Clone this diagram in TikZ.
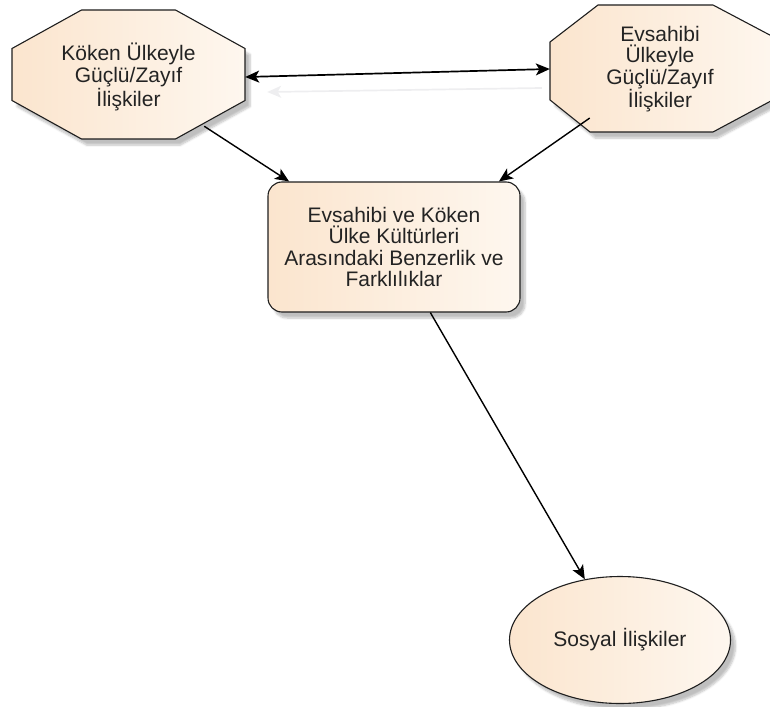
\documentclass[tikz,border=0pt]{standalone}
\usepackage{fontspec}
\setmainfont{Liberation Sans}
\usetikzlibrary{shapes.geometric,arrows.meta,shadows.blur,backgrounds,calc}
\definecolor{peachA}{RGB}{251,229,206}
\definecolor{peachB}{RGB}{254,247,239}
\definecolor{inkline}{RGB}{30,30,30}
\definecolor{inktext}{RGB}{35,35,35}
\definecolor{faint}{RGB}{238,238,240}
\begin{document}
\begin{tikzpicture}[x=1pt,y=-1pt,
  skin/.style={draw=inkline, line width=1.1pt, left color=peachA, right color=peachB,
    blur shadow={shadow xshift=5pt, shadow yshift=-6pt, shadow blur steps=6, shadow opacity=25}},
  label/.style={text=inktext, align=center, inner sep=0pt,
    font=\fontsize{21}{21.5}\selectfont},
  octolabel/.style={label, ellipse, draw=none, fill=none},
  roundbox/.style={label, skin, rectangle, rounded corners=14pt},
  oval/.style={label, skin, ellipse},
  link/.style={draw=black, line width=1.4pt, -{Stealth[length=14pt,width=12pt,inset=3.5pt]}},
  both/.style={draw=black, line width=1.7pt,
    {Stealth[length=14pt,width=12pt,inset=3.5pt]}-{Stealth[length=14pt,width=12pt,inset=3.5pt]}}
]
\useasboundingbox (0,0) rectangle (770,706);

% text holders; the octagon outlines are drawn behind them
\node[octolabel, minimum width=233pt, minimum height=129pt] (origin) at (128.5,77)
  {Köken Ülkeyle\\Güçlü/Zayıf\\İlişkiler};
\node[octolabel, minimum width=220pt, minimum height=127pt] (host) at (660,69)
  {Evsahibi\\Ülkeyle\\Güçlü/Zayıf\\İlişkiler};
\node[roundbox, minimum width=252pt, minimum height=130pt] (culture) at (394,247)
  {Evsahibi ve Köken\\Ülke Kültürleri\\Arasındaki Benzerlik ve\\Farklılıklar};
\node[oval, minimum width=221pt, minimum height=127pt] (social) at (620,640)
  {Sosyal İlişkiler};

\begin{pgfonlayer}{background}
  \path[skin] ($(origin.center)+(-47,-67)$) -- ($(origin.center)+(47,-67)$)
    -- ($(origin.center)+(116.5,-28.5)$) -- ($(origin.center)+(116.5,23.5)$)
    -- ($(origin.center)+(47,62)$) -- ($(origin.center)+(-47,62)$)
    -- ($(origin.center)+(-116.5,23.5)$) -- ($(origin.center)+(-116.5,-28.5)$) -- cycle;
  \path[skin] ($(host.center)+(-62,-64)$) -- ($(host.center)+(53,-64)$)
    -- ($(host.center)+(123,-27)$) -- ($(host.center)+(123,25.5)$)
    -- ($(host.center)+(53,63)$) -- ($(host.center)+(-70,63)$)
    -- ($(host.center)+(-110,31)$) -- ($(host.center)+(-110,-27)$) -- cycle;
  % soft shadow under the two-way link
  \draw[faint, line width=1.7pt, {Stealth[length=14pt,width=12pt,inset=3.5pt]}-]
    ($(origin.east)+(22,15)$) -- ($(host.west)+(-8,19)$);
\end{pgfonlayer}

\draw[both] (origin.east) -- (host.west);
\draw[link] (origin) -- (culture.148);
\draw[link] (host) -- (culture.32);
\draw[link] (culture.-61) -- (social);
\end{tikzpicture}
\end{document}
